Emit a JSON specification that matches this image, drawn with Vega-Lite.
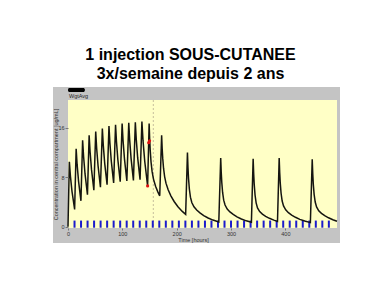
{
  "$schema": "https://vega.github.io/schema/vega-lite/v6.json",
  "width": 269,
  "height": 128,
  "autosize": "none",
  "padding": {"left": 68, "top": 100, "right": 46, "bottom": 58},
  "background": "white",
  "view": {"stroke": null},
  "config": {
    "font": "Liberation Sans",
    "axis": {"labelOverlap": false, "labelFlush": false, "labelBound": false}
  },
  "title": {
    "text": ["1 injection SOUS-CUTANEE", "3x/semaine depuis 2 ans"],
    "font": "Liberation Sans",
    "fontSize": 16,
    "fontWeight": "bold",
    "color": "#000000",
    "lineHeight": 19.5,
    "anchor": "middle",
    "frame": "group",
    "dx": -12,
    "dy": 18,
    "offset": 10,
    "baseline": "alphabetic"
  },
  "datasets": {
    "curve": [
      {"t":0,"c":0},
      {"t":2.5,"c":10.5},{"t":4.44,"c":8.19},{"t":7.35,"c":5.73},{"t":12.2,"c":2.8},
      {"t":15.0,"c":12.6},{"t":16.76,"c":10.08},{"t":19.4,"c":7.39},{"t":23.8,"c":4.2},
      {"t":26.9,"c":14.0},{"t":28.68,"c":11.36},{"t":31.35,"c":8.54},{"t":35.8,"c":5.2},
      {"t":38.9,"c":14.8},{"t":40.64,"c":12.13},{"t":43.25,"c":9.28},{"t":47.6,"c":5.9},
      {"t":51.0,"c":15.4},{"t":52.74,"c":12.7},{"t":55.35,"c":9.82},{"t":59.7,"c":6.4},
      {"t":63.2,"c":15.9},{"t":64.94,"c":13.17},{"t":67.55,"c":10.26},{"t":71.9,"c":6.8},
      {"t":75.4,"c":16.3},{"t":77.12,"c":13.54},{"t":79.7,"c":10.6},{"t":84.0,"c":7.1},
      {"t":87.5,"c":16.5},{"t":89.22,"c":13.74},{"t":91.8,"c":10.8},{"t":96.1,"c":7.3},
      {"t":99.6,"c":16.7},{"t":101.34,"c":13.91},{"t":103.95,"c":10.93},{"t":108.3,"c":7.4},
      {"t":111.8,"c":16.8},{"t":113.52,"c":14.01},{"t":116.1,"c":11.03},{"t":120.4,"c":7.5},
      {"t":123.9,"c":16.9},{"t":125.64,"c":14.11},{"t":128.25,"c":11.13},{"t":132.6,"c":7.6},
      {"t":136.0,"c":17.0},{"t":138.1,"c":13.88},{"t":141.25,"c":10.55},{"t":146.5,"c":6.6},
      {"t":149.3,"c":16.7},{"t":150.3,"c":14.17},{"t":151.3,"c":12.37},{"t":152.8,"c":10.48},{"t":154.8,"c":8.91},{"t":157.3,"c":7.71},{"t":161.3,"c":6.5},{"t":165.3,"c":5.64},{"t":168.8,"c":5.0},
      {"t":172.3,"c":14.8},{"t":173.3,"c":12.65},{"t":174.3,"c":11.1},{"t":175.8,"c":9.47},{"t":177.8,"c":8.11},{"t":180.3,"c":7.05},{"t":184.3,"c":5.97},{"t":189.3,"c":5.0},{"t":195.3,"c":4.09},{"t":202.3,"c":3.24},{"t":210.3,"c":2.48},{"t":216.5,"c":2.0},
      {"t":219.8,"c":12.0},{"t":220.8,"c":9.55},{"t":221.8,"c":7.81},{"t":223.3,"c":6.11},{"t":225.3,"c":4.79},{"t":227.8,"c":3.92},{"t":231.8,"c":3.22},{"t":236.8,"c":2.7},{"t":242.8,"c":2.24},{"t":249.8,"c":1.81},{"t":257.8,"c":1.42},{"t":266.8,"c":1.08},{"t":277.5,"c":0.78},
      {"t":281,"c":11.1},{"t":282,"c":8.78},{"t":283,"c":7.15},{"t":284.5,"c":5.55},{"t":286.5,"c":4.3},{"t":289,"c":3.51},{"t":293,"c":2.86},{"t":298,"c":2.4},{"t":304,"c":1.99},{"t":311,"c":1.61},{"t":319,"c":1.26},{"t":328,"c":0.96},{"t":337.5,"c":0.72},
      {"t":340.7,"c":11.0},{"t":341.7,"c":8.54},{"t":342.7,"c":6.83},{"t":344.2,"c":5.14},{"t":346.2,"c":3.87},{"t":348.7,"c":3.06},{"t":352.7,"c":2.45},{"t":357.7,"c":2.04},{"t":363.7,"c":1.69},{"t":370.7,"c":1.37},{"t":378.7,"c":1.07},{"t":385.5,"c":0.87},
      {"t":388.6,"c":11.1},{"t":389.6,"c":8.73},{"t":390.6,"c":7.06},{"t":392.1,"c":5.42},{"t":394.1,"c":4.16},{"t":396.6,"c":3.36},{"t":400.6,"c":2.73},{"t":405.6,"c":2.28},{"t":411.6,"c":1.89},{"t":418.6,"c":1.53},{"t":426.6,"c":1.2},{"t":435.6,"c":0.92},{"t":446,"c":0.67},
      {"t":449.4,"c":10.9},{"t":450.4,"c":8.53},{"t":451.4,"c":6.87},{"t":452.9,"c":5.24},{"t":454.9,"c":4.0},{"t":457.4,"c":3.21},{"t":461.4,"c":2.59},{"t":466.4,"c":2.16},{"t":472.4,"c":1.79},{"t":479.4,"c":1.45},{"t":487.4,"c":1.14},{"t":495,"c":0.9}
    ],
    "bars": [
      {"t":12},{"t":24},{"t":36},{"t":48},{"t":60},{"t":72},{"t":84},{"t":96},{"t":108},{"t":120},
      {"t":132},{"t":144},{"t":156},{"t":168},{"t":180},{"t":192},{"t":204},{"t":216},{"t":228},{"t":240},
      {"t":252},{"t":264},{"t":276},{"t":288},{"t":300},{"t":312},{"t":324},{"t":336},{"t":348},{"t":360},
      {"t":372},{"t":384},{"t":396},{"t":408},{"t":420},{"t":432},{"t":444},{"t":456},{"t":468},{"t":480}
    ],
    "obs": [
      {"t":146.5,"c":6.6},{"t":148.5,"c":13.6},{"t":150.1,"c":13.9}
    ]
  },
  "layer": [
    {
      "data": {"values": [{}]},
      "mark": {"type": "rect", "color": "#c4c4c4"},
      "encoding": {
        "x": {
          "datum": -27.6, "type": "quantitative",
          "scale": {"domain": [0, 495], "nice": false, "zero": false},
          "axis": {
            "zindex": 2,
            "values": [0, 50, 100, 150, 200, 250, 300, 350, 400, 450],
            "labelOverlap": false, "labelFlush": false,
            "title": "Time [hours]",
            "titleFontSize": 5.5, "titleFontWeight": "normal", "titleColor": "#333333",
            "titleX": 125, "titleY": 11, "titleBaseline": "middle", "titleAlign": "center",
            "labelFontSize": 5.5, "labelColor": "#333333", "labelPadding": 1,
            "tickSize": 2, "tickColor": "#777777", "domain": false, "grid": false
          }
        },
        "x2": {"datum": 500.5},
        "y": {
          "datum": 22.6, "type": "quantitative",
          "scale": {"domain": [-0.2, 20.5], "nice": false, "zero": false},
          "axis": {
            "zindex": 2,
            "values": [0, 2, 4, 6, 8, 10, 12, 14, 16, 18, 20],
            "labelOverlap": false, "labelFlush": false,
            "title": "Concentration in central compartment [ug/mL]",
            "titleFontSize": 5.5, "titleFontWeight": "normal", "titleColor": "#333333",
            "titleX": -13, "titleY": 64, "titleAngle": -90, "titleBaseline": "middle", "titleAlign": "center",
            "labelFontSize": 5.5, "labelColor": "#333333", "labelPadding": 1,
            "tickSize": 3, "tickColor": "#777777", "domain": false, "grid": false
          }
        },
        "y2": {"datum": -2.62}
      }
    },
    {
      "data": {"values": [{}]},
      "mark": {"type": "rect", "color": "#ffffc6"},
      "encoding": {
        "x": {"datum": 0, "type": "quantitative"},
        "x2": {"datum": 495},
        "y": {"datum": 20.5, "type": "quantitative"},
        "y2": {"datum": -0.2}
      }
    },
    {
      "data": {"values": [{}]},
      "mark": {"type": "rect", "color": "#000000", "cornerRadius": 1.5},
      "encoding": {
        "x": {"datum": 0, "type": "quantitative"},
        "x2": {"datum": 31},
        "y": {"datum": 22.45, "type": "quantitative"},
        "y2": {"datum": 21.8}
      }
    },
    {
      "data": {"values": [{"label": "WgtAvg"}]},
      "mark": {"type": "text", "align": "left", "baseline": "middle", "fontSize": 5.5, "color": "#222222", "dx": 1},
      "encoding": {
        "x": {"datum": 0, "type": "quantitative"},
        "y": {"datum": 21.15, "type": "quantitative"},
        "text": {"field": "label"}
      }
    },
    {
      "data": {"values": [{}]},
      "mark": {"type": "rule", "color": "#b8ae92", "strokeWidth": 0.8, "strokeDash": [2, 2]},
      "encoding": {
        "x": {"datum": 157, "type": "quantitative"}
      }
    },
    {
      "data": {"name": "bars"},
      "mark": {"type": "rule", "color": "#1c1ccc", "strokeWidth": 2},
      "encoding": {
        "x": {"field": "t", "type": "quantitative"},
        "y": {"datum": -0.15, "type": "quantitative"},
        "y2": {"datum": 1.0}
      }
    },
    {
      "data": {"name": "curve"},
      "mark": {"type": "line", "color": "#151510", "strokeWidth": 1.5},
      "encoding": {
        "x": {
          "field": "t", "type": "quantitative",
          "axis": {
            "zindex": 2,
            "values": [0, 50, 100, 150, 200, 250, 300, 350, 400, 450],
            "labelOverlap": false, "labelFlush": false,
            "title": "Time [hours]",
            "labelFontSize": 5.5, "labelColor": "#333333", "labelPadding": 1,
            "tickSize": 2, "tickColor": "#777777", "domain": false, "grid": false
          }
        },
        "y": {
          "field": "c", "type": "quantitative",
          "axis": {
            "zindex": 2,
            "values": [0, 2, 4, 6, 8, 10, 12, 14, 16, 18, 20],
            "labelOverlap": false, "labelFlush": false,
            "title": "Concentration in central compartment [ug/mL]",
            "labelFontSize": 5.5, "labelColor": "#333333", "labelPadding": 1,
            "tickSize": 3, "tickColor": "#777777", "domain": false, "grid": false
          }
        }
      }
    },
    {
      "data": {"name": "obs"},
      "mark": {"type": "point", "filled": true, "color": "#e01010", "size": 10, "opacity": 1},
      "encoding": {
        "x": {"field": "t", "type": "quantitative"},
        "y": {"field": "c", "type": "quantitative"}
      }
    }
  ]
}
